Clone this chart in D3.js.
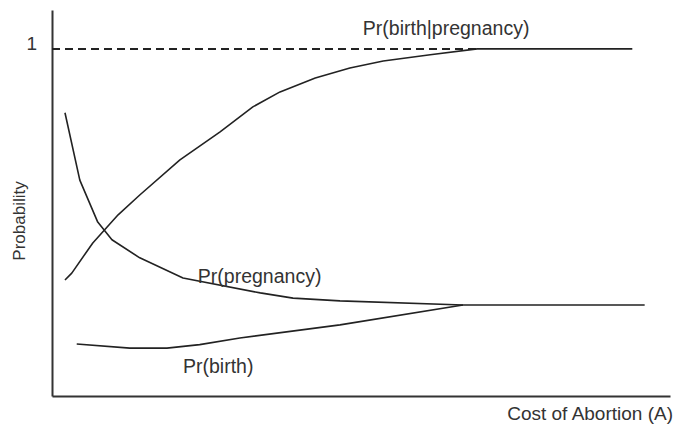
<!DOCTYPE html>
<html>
<head>
<meta charset="utf-8">
<script src="https://cdn.jsdelivr.net/npm/d3@7"></script>
<style>
  html, body { margin: 0; padding: 0; background: #fff; }
  svg { display: block; }
  text { font-family: "Liberation Sans", Arial, Helvetica, sans-serif; fill: #333; }
</style>
</head>
<body>
<svg id="chart" width="677" height="425"></svg>
<script>
// Cost of abortion (arbitrary units) and probabilities
const birthGivenPregX = [2.1, 3.2, 6.6, 10.7, 14.2, 20.7, 27.2, 32.5, 36.9, 42.6, 48.2, 53.6, 61.2, 68.8, 93.9];
const birthGivenPregY = [0.334, 0.354, 0.441, 0.522, 0.579, 0.680, 0.761, 0.833, 0.876, 0.916, 0.945, 0.965, 0.983, 1.0, 1.0];

const pregnancyX = [2.1, 4.5, 7.4, 9.7, 14.2, 21.2, 33.7, 39.0, 46.6, 66.5, 95.9];
const pregnancyY = [0.816, 0.622, 0.501, 0.450, 0.398, 0.340, 0.297, 0.282, 0.274, 0.262, 0.262];

const birthX = [4.0, 12.6, 18.6, 23.9, 30.4, 46.6, 66.5];
const birthY = [0.150, 0.138, 0.138, 0.148, 0.167, 0.205, 0.262];

const referenceLevel = 1;       // dashed line at probability 1
const referenceEndX = 68.8;     // where the dashed line meets the curve
const yTickValues = [1];

const seriesLabels = [
  { text: "Pr(birth|pregnancy)", x: 50.3, y: 1.04 },
  { text: "Pr(pregnancy)", x: 23.6, y: 0.325 },
  { text: "Pr(birth)", x: 21.2, y: 0.066 }
];
const xTitle = "Cost of Abortion (A)";
const yTitle = "Probability";

const svg = d3.select("#chart");
const x = d3.scaleLinear().domain([0, 100]).range([52, 670]);
const y = d3.scaleLinear().domain([0, 1.112]).range([396, 10]);

// axes
const yAxis = svg.append("g").attr("transform", "translate(52,0)")
  .call(d3.axisLeft(y).tickValues(yTickValues).tickFormat(d3.format("d"))
        .tickSize(0).tickPadding(15));
yAxis.select(".domain").attr("stroke", "#333").attr("stroke-width", 2);
yAxis.selectAll("text").attr("font-size", 19).attr("dy", "0.05em")
  .style("font-family", '"Liberation Sans", Arial, sans-serif').attr("fill", "#333");

const xAxis = svg.append("g").attr("transform", "translate(0,396)")
  .call(d3.axisBottom(x).tickValues([]).tickSize(0).tickSizeOuter(0));
xAxis.select(".domain").attr("stroke", "#333").attr("stroke-width", 2);

// dashed reference line
svg.append("line")
  .attr("x1", x(0)).attr("x2", x(referenceEndX))
  .attr("y1", y(referenceLevel)).attr("y2", y(referenceLevel))
  .attr("stroke", "#222").attr("stroke-width", 2)
  .attr("stroke-dasharray", "8,5");

const line = d3.line().x(d => x(d[0])).y(d => y(d[1]));
const series = [
  d3.zip(birthGivenPregX, birthGivenPregY),
  d3.zip(pregnancyX, pregnancyY),
  d3.zip(birthX, birthY)
];
svg.selectAll("path.curve").data(series).join("path")
  .attr("class", "curve")
  .attr("d", line)
  .attr("fill", "none")
  .attr("stroke", "#222")
  .attr("stroke-width", 1.6)
  .attr("stroke-linejoin", "round");

// series labels
svg.selectAll("text.lbl").data(seriesLabels).join("text")
  .attr("class", "lbl")
  .attr("x", d => x(d.x)).attr("y", d => y(d.y))
  .attr("font-size", 19.5)
  .text(d => d.text);

// axis titles
svg.append("text")
  .attr("x", 673).attr("y", 420)
  .attr("text-anchor", "end")
  .attr("font-size", 19)
  .text(xTitle);

svg.append("text")
  .attr("transform", "translate(25,221) rotate(-90)")
  .attr("text-anchor", "middle")
  .attr("font-size", 17)
  .text(yTitle);
</script>
</body>
</html>
